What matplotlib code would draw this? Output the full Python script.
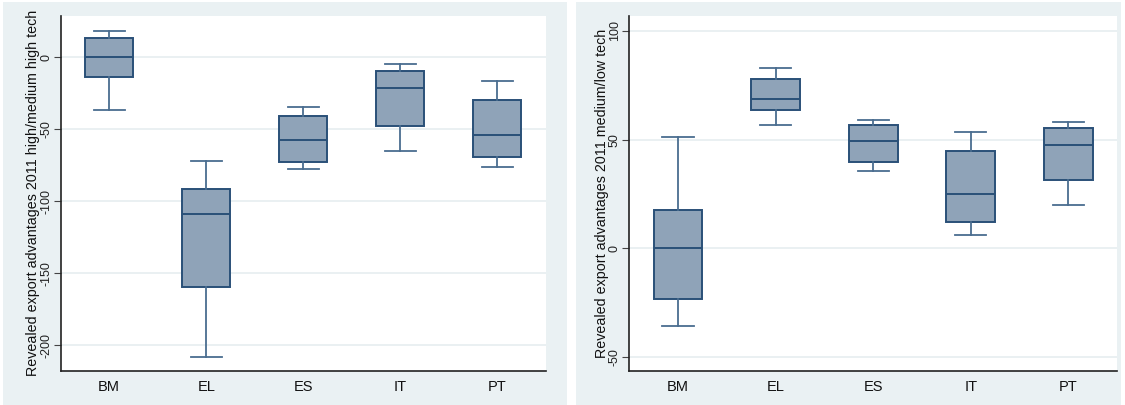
import matplotlib
matplotlib.use("Agg")
import matplotlib.pyplot as plt
from matplotlib.patches import Rectangle

categories = ["BM", "EL", "ES", "IT", "PT"]

# left panel: high/medium high tech (whisker low, Q1, median, Q3, whisker high)
hi_wlo = [-36.8, -208.1, -77.8, -65.0, -75.9]
hi_q1 = [-13.9, -159.5, -72.9, -47.9, -69.0]
hi_med = [0.0, -109.0, -57.2, -21.5, -53.7]
hi_q3 = [13.2, -91.7, -40.5, -9.5, -29.9]
hi_whi = [18.5, -72.2, -34.3, -4.4, -16.2]

# right panel: medium/low tech
lo_wlo = [-35.9, 56.6, 35.7, 6.1, 19.9]
lo_q1 = [-23.2, 63.8, 39.9, 12.3, 31.4]
lo_med = [0.0, 68.6, 49.5, 25.2, 47.7]
lo_q3 = [17.6, 77.9, 56.7, 44.6, 55.5]
lo_whi = [51.4, 83.1, 58.9, 53.5, 58.3]

left_ticks = [0, -50, -100, -150, -200]
right_ticks = [-50, 0, 50, 100]
left_label = "Revealed export advantages 2011 high/medium high tech"
right_label = "Revealed export advantages 2011 medium/low tech"

plt.rcParams['font.family'] = ['Liberation Sans', 'DejaVu Sans']

BG = "#eaf1f3"
FILL = "#8fa3b8"
EDGE = "#2a5078"
WHISK = "#4a6d90"
GRID = "#e6eef0"

fig = plt.figure(figsize=(11.25, 4.05), dpi=100)
fig.patch.set_facecolor("white")
# panel backgrounds
fig.patches.append(Rectangle((3/1125, 0), (567-3)/1125, (405-2)/405,
                             transform=fig.transFigure, facecolor=BG, edgecolor="none", zorder=-10))
fig.patches.append(Rectangle((576/1125, 0), (1121-576)/1125, (405-2)/405,
                             transform=fig.transFigure, facecolor=BG, edgecolor="none", zorder=-10))

def panel(rect, wlo, q1, med, q3, whi, ticks, ylim, label):
    ax = fig.add_axes(rect)
    ax.set_facecolor("white")
    stats = []
    for i, c in enumerate(categories):
        stats.append(dict(label=c, whislo=wlo[i], q1=q1[i], med=med[i],
                          q3=q3[i], whishi=whi[i], fliers=[]))
    ax.bxp(stats, positions=range(1, len(categories) + 1), widths=0.5,
           capwidths=0.32, patch_artist=True, showfliers=False,
           boxprops=dict(facecolor=FILL, edgecolor=EDGE, linewidth=1.4),
           medianprops=dict(color=EDGE, linewidth=1.4),
           whiskerprops=dict(color=WHISK, linewidth=1.3),
           capprops=dict(color=WHISK, linewidth=1.3))
    ax.set_xlim(0.5, 5.5)
    ax.set_ylim(*ylim)
    ax.set_yticks(ticks)
    ax.set_yticklabels([str(t) for t in ticks], rotation=90, va="center",
                       fontsize=9, color="#222222")
    ax.tick_params(axis="x", length=0, labelsize=10.5, labelcolor="#111111", pad=7)
    ax.tick_params(axis="y", length=5, width=0.8, color="#444444", pad=1)
    ax.yaxis.grid(True, color=GRID, linewidth=1.2)
    ax.set_axisbelow(True)
    for s in ["top", "right"]:
        ax.spines[s].set_visible(False)
    for s in ["left", "bottom"]:
        ax.spines[s].set_color("#222222")
        ax.spines[s].set_linewidth(1.2)
    ax.set_ylabel(label, fontsize=10.3, color="#111111", labelpad=0)
    return ax

panel([60.7/1125, 34.3/405, 485/1125, 354.7/405], hi_wlo, hi_q1, hi_med, hi_q3, hi_whi,
      left_ticks, (-217.6, 28.7), left_label)
panel([629.3/1125, 34.3/405, 487.7/1125, 354.7/405], lo_wlo, lo_q1, lo_med, lo_q3, lo_whi,
      right_ticks, (-56.3, 106.9), right_label)

fig.savefig("out.png", dpi=100, facecolor=fig.get_facecolor())
